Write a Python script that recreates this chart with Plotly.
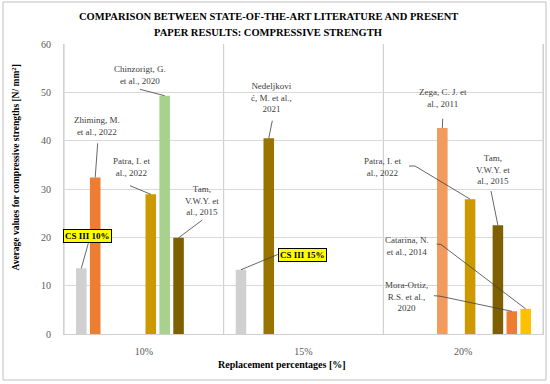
import plotly.graph_objects as go

# ---------------- data ----------------
categories = ["10%", "15%", "20%"]
cs_iii = [13.6, 13.3, None]
zhiming = [32.4, None, None]
nedeljkovic = [None, 40.5, None]
zega = [None, None, 42.6]
unused = [None, None, None]
patra = [28.9, None, 27.9]
chinzorigt = [49.3, None, None]
tam = [19.9, None, 22.5]
mora_ortiz = [None, None, 4.7]
catarina = [None, None, 5.2]

series = [
    ("CS III", cs_iii, "#D0D0D0"),
    ("Zhiming, M. et al., 2022", zhiming, "#ED7D31"),
    ("Nedeljković, M. et al., 2021", nedeljkovic, "#997300"),
    ("Zega, C. J. et al., 2011", zega, "#F29B5E"),
    ("-", unused, "#A5A5A5"),
    ("Patra, I. et al., 2022", patra, "#CC9900"),
    ("Chinzorigt, G. et al., 2020", chinzorigt, "#A9D18E"),
    ("Tam, V.W.Y. et al., 2015", tam, "#7F6000"),
    ("Mora-Ortiz, R.S. et al., 2020", mora_ortiz, "#ED7D31"),
    ("Catarina, N. et al., 2014", catarina, "#FFC000"),
]

# ---------------- geometry ----------------
W, H = 550, 384
L, R, T, B = 64, 7, 44, 50
PW, PH = W - L - R, H - T - B
YMAX = 60
BARGAP, GROUPGAP = 0.13, 0.24
N = len(series)
FONT = "Liberation Serif"


def px2x(px):
    return -0.5 + (px - L) / PW * len(categories)


def py2y(py):
    return (H - B - py) / PH * YMAX


def bar_x(cat, k):
    return cat - 0.5 + BARGAP / 2 + (k + 0.5) * (1 - BARGAP) / N


xs = list(range(len(categories)))

fig = go.Figure()
for name, vals, col in series:
    fig.add_trace(go.Bar(x=xs, y=vals, name=name, marker=dict(color=col, line=dict(width=0))))

# vertical category boundaries
for b in [-0.5 + i for i in range(len(categories) + 1)]:
    fig.add_shape(type="line", x0=b, x1=b, y0=0, y1=YMAX, xref="x", yref="y",
                  line=dict(color="#C8C8C8", width=1), layer="below")

# labels: text, center px, center py, series k, category, leader points (px)
labels = [
    ("Zhiming, M.<br>et al., 2022", 96.7, 125.5, 1, 0, [(97.7, 143.3)]),
    ("Chinzorigt, G.<br>et al., 2020", 140, 75, 6, 0, [(140, 89.3)]),
    ("Patra, I. et<br>al., 2022", 131.7, 167, 5, 0, [(130, 185.7)]),
    ("Tam,<br>V.W.Y. et<br>al., 2015", 202, 200, 7, 0, [(202.3, 220)]),
    ("Nedeljkovi<br>ć, M. et al.,<br>2021", 271.7, 97.3, 2, 1, [(272.3, 120.7)]),
    ("Zega, C. J. et<br>al., 2011", 443.3, 97.5, 3, 2, [(442.7, 118.7)]),
    ("Patra, I. et<br>al., 2022", 382, 166.5, 5, 2, [(409, 166), (415, 166)]),
    ("Tam,<br>V.W.Y. et<br>al., 2015", 493.3, 169.3, 7, 2, [(491, 191)]),
    ("Catarina, N.<br>et al., 2014", 406.7, 245.5, 9, 2, [(436.7, 244), (441, 244.5)]),
    ("Mora-Ortiz,<br>R.S. et al.,<br>2020", 406.7, 296.5, 8, 2, [(434, 295.7), (440, 296.2)]),
]

for text, cx, cy, k, cat, pts in labels:
    fig.add_annotation(x=px2x(cx), y=py2y(cy), xref="x", yref="y", text=text,
                       xanchor="center", yanchor="middle",
                       showarrow=False, font=dict(family=FONT, size=9, color="#404040"),
                       align="center")
    val = series[k][1][cat]
    path = "M " + " L ".join(f"{px2x(a)},{py2y(b)}" for a, b in pts)
    path += f" L {bar_x(cat, k)},{val}"
    fig.add_shape(type="path", path=path, xref="x", yref="y",
                  line=dict(color="#404040", width=0.8))

# CS III boxes
boxes = [
    ("<b>CS III 10%</b>", 87, 236.3, 0, 0, [(88.3, 243.3)]),
    ("<b>CS III 15%</b>", 302, 254.7, 0, 1, [(277.7, 254.5)]),
]
for text, cx, cy, k, cat, pts in boxes:
    val = series[k][1][cat]
    path = "M " + " L ".join(f"{px2x(a)},{py2y(b)}" for a, b in pts)
    path += f" L {bar_x(cat, k)},{val}"
    fig.add_shape(type="path", path=path, xref="x", yref="y",
                  line=dict(color="#404040", width=0.8))
    fig.add_annotation(x=px2x(cx), y=py2y(cy), xref="x", yref="y", text=text,
                       xanchor="center", yanchor="middle",
                       showarrow=False, font=dict(family=FONT, size=9, color="#000000"),
                       bgcolor="#FFFF00", bordercolor="#000000", borderwidth=1, borderpad=1)


# titles
def paper_text(text, cx, cy, size, angle=0):
    fig.add_annotation(x=(cx - L) / PW, y=(H - B - cy) / PH, xref="paper", yref="paper",
                       xanchor="center", yanchor="middle", text=text, textangle=angle,
                       showarrow=False, font=dict(family=FONT, size=size, color="#000000"))


paper_text("<b>COMPARISON BETWEEN STATE-OF-THE-ART LITERATURE AND PRESENT</b>", 268, 16.7, 10.5)
paper_text("<b>PAPER RESULTS: COMPRESSIVE STRENGTH</b>", 268, 32.7, 10.5)
paper_text("<b>Replacement percentages [%]</b>", 282, 364, 10)
paper_text("<b>Average values for compressive strengths [N/ mm<sup>2</sup>]</b>", 15, 167.5, 9.5, -90)

# outer border
fig.add_shape(type="rect", xref="paper", yref="paper",
              x0=(3 - L) / PW, x1=(546 - L) / PW,
              y0=(H - B - 380) / PH, y1=(H - B - 2) / PH,
              line=dict(color="#BFBFBF", width=1), fillcolor="rgba(0,0,0,0)", layer="below")

fig.update_layout(
    width=W, height=H,
    margin=dict(l=L, r=R, t=T, b=B),
    paper_bgcolor="white", plot_bgcolor="white",
    barmode="group", bargap=BARGAP, bargroupgap=GROUPGAP,
    showlegend=False,
    font=dict(family=FONT, color="#595959"),
    xaxis=dict(range=[-0.5, 2.5], tickvals=xs, ticktext=categories,
               showgrid=False, zeroline=False, showline=True, linecolor="#D0D0D0",
               ticks="", ticklabelstandoff=8, tickfont=dict(family=FONT, size=10, color="#595959")),
    yaxis=dict(range=[0, YMAX], dtick=10, showgrid=True, gridcolor="#D9D9D9", gridwidth=1,
               zeroline=False, showline=True, mirror=True, linecolor="#D0D0D0",
               ticks="", ticklabelstandoff=10, tickfont=dict(family=FONT, size=10, color="#595959")),
)

fig.write_html("out.html", config={"displayModeBar": False},
               post_script="document.body.style.margin='0';document.body.style.padding='0';")
